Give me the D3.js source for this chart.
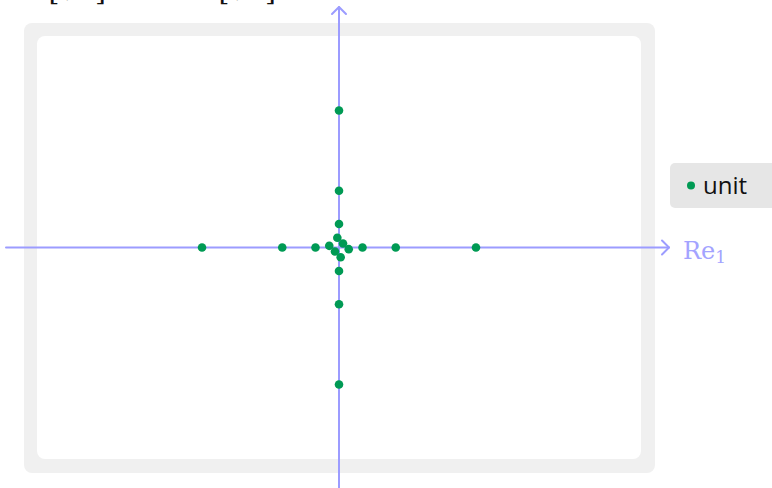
<!DOCTYPE html>
<html>
<head>
<meta charset="utf-8">
<script src="https://cdn.jsdelivr.net/npm/d3@7"></script>
<style>
  html, body { margin: 0; padding: 0; background: #ffffff; }
  svg { display: block; }
</style>
</head>
<body>
<svg id="chart" width="772" height="488"></svg>
<script>
// Units plotted in the (Re1, Re2) plane
const r1 = 1;
const r2 = 1 + Math.SQRT2;          // 2.414
const r3 = 3 + 2 * Math.SQRT2;      // 5.828
const s1 = Math.SQRT2 - 1;          // 0.414
const s2 = 3 - 2 * Math.SQRT2;      // 0.172
const s3 = 5 * Math.SQRT2 - 7;      // 0.071

const unitRe1 = [-r3, -r2, -r1, r1, r2, r3, 0, 0, 0, 0, 0, 0, -s3, s2, s1, -s1, -s2, s3];
const unitRe2 = [0, 0, 0, 0, 0, 0, -r3, -r2, -r1, r1, r2, r3, s1, s2, -s3, s3, -s2, -s1];

const legendLabels = ["unit"];
const titleParts = ["ℤ[√2]", "⊕", "ℤ[√2]"];

const W = 772, H = 488;
const svg = d3.select("#chart");

// frame of the plotting area
const frame = { x0: 24, y0: 23, x1: 655, y1: 473 };
const inner = { x0: 37, y0: 36, x1: 641, y1: 459 };

const x = d3.scaleLinear().domain([-12.85, 12.85]).range([inner.x0, inner.x1]);
const y = d3.scaleLinear().domain([-9, 9]).range([inner.y1, inner.y0]);

svg.append("rect")
  .attr("x", frame.x0).attr("y", frame.y0)
  .attr("width", frame.x1 - frame.x0).attr("height", frame.y1 - frame.y0)
  .attr("rx", 8).attr("fill", "#f0f0f0");
svg.append("rect")
  .attr("x", inner.x0).attr("y", inner.y0)
  .attr("width", inner.x1 - inner.x0).attr("height", inner.y1 - inner.y0)
  .attr("rx", 8).attr("fill", "#ffffff");

// title, set high so it sits mostly above the view
const titleX = [106, 183, 276];
const titleAnchor = ["end", "middle", "end"];
svg.append("g").selectAll("text")
  .data(titleParts)
  .join("text")
  .attr("x", (d, i) => titleX[i])
  .attr("y", 0)
  .attr("text-anchor", (d, i) => titleAnchor[i])
  .attr("font-family", "'DejaVu Serif', serif")
  .attr("font-size", 28)
  .attr("fill", "#111")
  .text(d => d);

// axes through the origin, with open arrow heads
const axisColor = "#9c9cff";
const axes = svg.append("g").attr("stroke", axisColor).attr("stroke-width", 2)
  .attr("fill", "none").attr("stroke-linecap", "round").attr("stroke-linejoin", "round");

const xStart = x.invert(6), xEnd = x.invert(669);
const yTop = y.invert(7), yBottom = y.invert(H + 5);

axes.append("line")
  .attr("x1", x(xStart)).attr("x2", x(xEnd))
  .attr("y1", y(0)).attr("y2", y(0));
axes.append("path")
  .attr("d", `M${x(xEnd) - 7},${y(0) - 7} L${x(xEnd)},${y(0)} L${x(xEnd) - 7},${y(0) + 7}`);

axes.append("line")
  .attr("x1", x(0)).attr("x2", x(0))
  .attr("y1", y(yBottom)).attr("y2", y(yTop));
axes.append("path")
  .attr("d", `M${x(0) - 7},${y(yTop) + 7} L${x(0)},${y(yTop)} L${x(0) + 7},${y(yTop) + 7}`);

const reLabel = svg.append("text")
  .attr("x", x(xEnd) + 14).attr("y", y(0) + 11)
  .attr("font-family", "'DejaVu Serif', serif")
  .attr("font-size", 24)
  .attr("fill", "#a3a3ff");
reLabel.append("tspan").text("Re");
reLabel.append("tspan").attr("font-size", 17).attr("dy", 4).text("1");

// unit points
const pts = unitRe1.map((v, i) => ({ a: v, b: unitRe2[i] }));
svg.append("g").selectAll("circle")
  .data(pts)
  .join("circle")
  .attr("cx", d => x(d.a))
  .attr("cy", d => y(d.b))
  .attr("r", 4.3)
  .attr("fill", "#009a54");

// legend
const legend = svg.append("g").attr("transform", "translate(670,163)");
legend.append("rect")
  .attr("width", 115).attr("height", 45).attr("rx", 5)
  .attr("fill", "#e6e6e6");
legend.selectAll("g.item")
  .data(legendLabels)
  .join("g").attr("class", "item")
  .each(function (d) {
    const g = d3.select(this);
    g.append("circle").attr("cx", 21).attr("cy", 22.5).attr("r", 4).attr("fill", "#009a54");
    g.append("text").attr("x", 33).attr("y", 31)
      .attr("font-family", "'Open Sans', sans-serif")
      .attr("font-size", 24)
      .attr("fill", "#111")
      .text(d);
  });
</script>
</body>
</html>
